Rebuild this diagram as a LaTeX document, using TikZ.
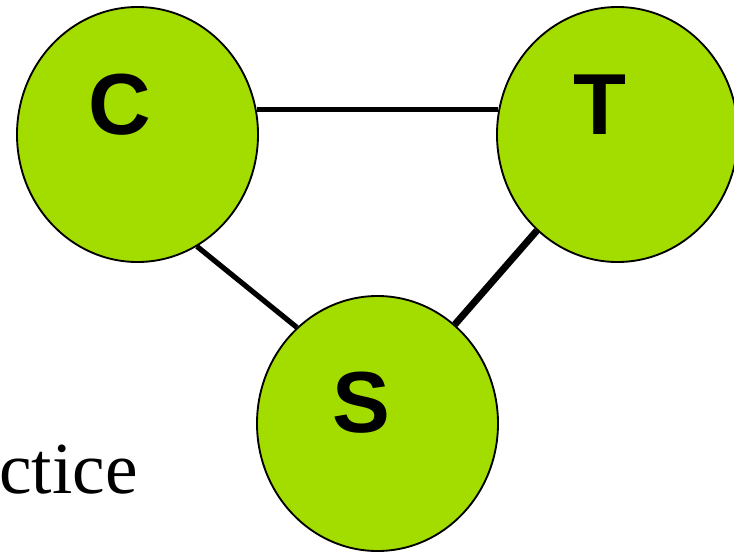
\documentclass[tikz,border=0pt]{standalone}
\usepackage{fontspec}
\setmainfont{Liberation Serif}
\newfontfamily\letterfont{Liberation Sans}
\usetikzlibrary{shapes.geometric}
\definecolor{leafgreen}{RGB}{163,221,0}
\tikzset{
  bubble/.style={ellipse, draw=black, line width=1.4pt, fill=leafgreen,
    minimum width=180.75pt, minimum height=191.25pt, inner sep=0pt},
  letter/.style={font=\letterfont\bfseries\fontsize{65}{65}\selectfont, inner sep=0pt},
  link/.style={draw=black, line width=3.9pt},
  thicklink/.style={draw=black, line width=5.2pt}
}
\begin{document}
\begin{tikzpicture}[x=0.75pt, y=-0.75pt]
  \useasboundingbox (0,0) rectangle (734,553);
  % three circles
  \node[bubble] (C) at (137.5,134.5) {};
  \node[bubble] (T) at (617.5,134.5) {};
  \node[bubble] (S) at (377.5,423.5) {};
  % their letters
  \node[letter] (Cl) at (120,105) {C};
  \node[letter] (Tl) at (600,105) {T};
  \node[letter] (Sl) at (361,403) {S};
  % connecting lines
  \draw[link] (C.12) -- (T.168);
  \draw[link] (C.-62) -- (S.130);
  \draw[thicklink] (T.-130) -- (S.52);
  % partly hidden word on the left
  \node[anchor=base west, inner sep=0pt, font=\fontsize{55}{55}\selectfont] (word) at (-1,493) {ctice};
\end{tikzpicture}
\end{document}
